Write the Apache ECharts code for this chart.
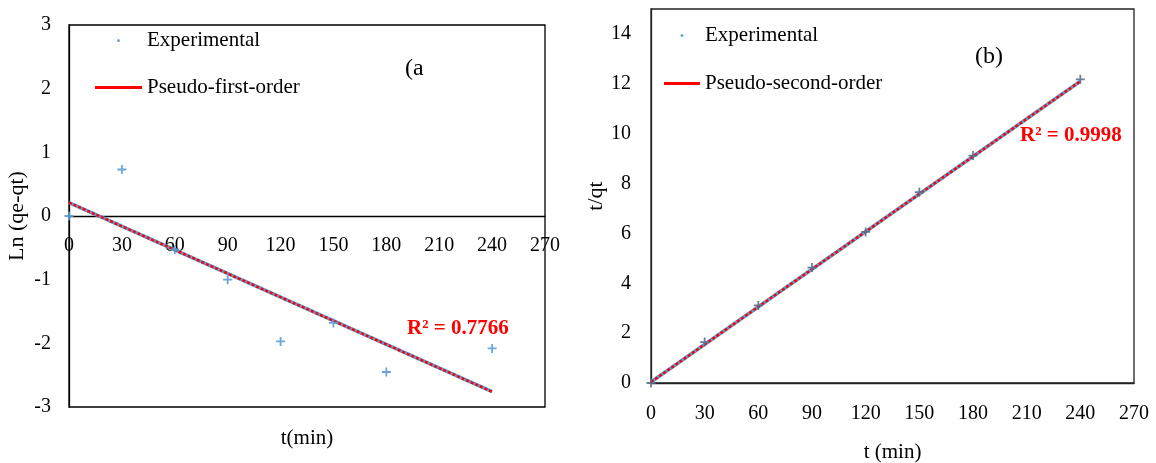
<!DOCTYPE html>
<html>
<head>
<meta charset="utf-8">
<script src="https://cdn.jsdelivr.net/npm/echarts@6/dist/echarts.min.js"></script>
<style>
  html, body { margin: 0; padding: 0; background: #fff; }
  #main { width: 1156px; height: 463px; }
</style>
</head>
<body>
<div id="main"></div>
<script>
// time points (min)
const timeA = [0, 30, 60, 90, 120, 150, 180, 240];
const timeB = [0, 30, 60, 90, 120, 150, 180, 240];

// (a) pseudo-first-order: Ln(qe-qt)
const lnQeQt = [0, 0.73, -0.53, -1.0, -1.97, -1.68, -2.45, -2.08];
const fitTimeA = [0, 240];
const fitA = [0.21, -2.76];

// (b) pseudo-second-order: t/qt
const tOverQt = [0, 1.64, 3.11, 4.63, 6.06, 7.65, 9.12, 12.18];
const fitTimeB = [0, 240];
const fitB = [0.04, 12.1];

const FONT = '"Liberation Serif", "Times New Roman", serif';
const ptColor = '#5b9bd5';
// small plus marker (point with tiny error bars)
const plus = 'path://M4,0L6,0L6,4L10,4L10,6L6,6L6,10L4,10L4,6L0,6L0,4L4,4Z';

function pairs(xs, ys) {
  return xs.map((x, i) => [x, ys[i]]);
}

const chart = echarts.init(document.getElementById('main'));

const axisLabel = { color: '#000', fontFamily: FONT, fontSize: 20 };
const nameStyle = { color: '#000', fontFamily: FONT, fontSize: 21 };

// panel (a) box: top 25, bottom 407 -> zero line at 216
const gridATop = 25, gridABottom = 407;
const zeroShift = gridABottom - (gridATop + gridABottom) / 2;

const option = {
  backgroundColor: '#fff',
  animation: false,
  grid: [
    { left: 69, right: 611, top: gridATop, bottom: 463 - gridABottom, outerBoundsMode: 'none', containLabel: false,
      show: true, borderColor: '#000', borderWidth: 1.3, backgroundColor: 'transparent' },
    { left: 651, right: 22, top: 9, bottom: 80, outerBoundsMode: 'none', containLabel: false,
      show: true, borderColor: '#222', borderWidth: 1.3, backgroundColor: 'transparent' }
  ],
  xAxis: [
    {
      type: 'value', gridIndex: 0, min: 0, max: 270, interval: 30,
      offset: -zeroShift,
      axisLine: { onZero: false, lineStyle: { color: '#000', width: 1.3 } },
      axisTick: { show: false },
      splitLine: { show: false },
      axisLabel: Object.assign({ margin: 20 }, axisLabel),
      name: 't(min)', nameLocation: 'middle', nameGap: 212,
      nameTextStyle: nameStyle
    },
    {
      type: 'value', gridIndex: 1, min: 0, max: 270, interval: 30,
      axisLine: { lineStyle: { color: '#222', width: 1.3 } },
      axisTick: { show: false },
      splitLine: { show: false },
      axisLabel: Object.assign({ margin: 21 }, axisLabel),
      name: 't (min)', nameLocation: 'middle', nameGap: 59,
      nameTextStyle: nameStyle
    }
  ],
  yAxis: [
    {
      type: 'value', gridIndex: 0, min: -3, max: 3, interval: 1,
      axisLine: { show: true, onZero: false, lineStyle: { color: '#000', width: 1.3 } },
      axisTick: { show: false },
      splitLine: { show: false },
      axisLabel: Object.assign({ margin: 18 }, axisLabel),
      name: 'Ln (qe-qt)', nameLocation: 'middle', nameGap: 41, nameRotate: 90,
      nameTextStyle: Object.assign({}, nameStyle, { fontSize: 22 })
    },
    {
      type: 'value', gridIndex: 1, min: 0, max: 15, interval: 2,
      axisLine: { show: true, lineStyle: { color: '#222', width: 1.3 } },
      axisTick: { show: false },
      splitLine: { show: false },
      axisLabel: Object.assign({ margin: 20, showMaxLabel: false }, axisLabel),
      name: 't/qt', nameLocation: 'middle', nameGap: 42, nameRotate: 90,
      nameTextStyle: Object.assign({}, nameStyle, { fontSize: 22 })
    }
  ],
  legend: [
    {
      left: 95, top: 30, orient: 'vertical', itemGap: 26, padding: 0,
      itemWidth: 47, itemHeight: 3, selectedMode: false,
      textStyle: { color: '#000', fontFamily: FONT, fontSize: 21 },
      data: [
        { name: 'Experimental', icon: 'circle', itemStyle: { color: ptColor } },
        { name: 'Pseudo-first-order', icon: 'rect', itemStyle: { color: '#ff0000' } }
      ]
    },
    {
      left: 664, top: 25, orient: 'vertical', itemGap: 27, padding: 0,
      itemWidth: 36, itemHeight: 3, selectedMode: false,
      textStyle: { color: '#000', fontFamily: FONT, fontSize: 21 },
      data: [
        { name: 'Experimental', icon: 'circle', itemStyle: { color: ptColor } },
        { name: 'Pseudo-second-order', icon: 'rect', itemStyle: { color: '#ff0000' } }
      ]
    }
  ],
  series: [
    {
      name: 'fitA-under', type: 'line', xAxisIndex: 0, yAxisIndex: 0,
      data: pairs(fitTimeA, fitA), showSymbol: false, symbol: 'none',
      lineStyle: { color: ptColor, width: 3.5 }, z: 2
    },
    {
      name: 'Pseudo-first-order', type: 'line', xAxisIndex: 0, yAxisIndex: 0,
      data: pairs(fitTimeA, fitA), showSymbol: false, symbol: 'none',
      lineStyle: { color: '#ff0000', width: 2.5, type: [3, 2] }, z: 3
    },
    {
      name: 'Experimental', type: 'scatter', xAxisIndex: 0, yAxisIndex: 0,
      data: pairs(timeA, lnQeQt), symbol: plus, symbolSize: 9,
      itemStyle: { color: ptColor, opacity: 0.9 }, z: 4
    },
    {
      name: 'fitB-under', type: 'line', xAxisIndex: 1, yAxisIndex: 1,
      data: pairs(fitTimeB, fitB), showSymbol: false, symbol: 'none',
      lineStyle: { color: ptColor, width: 3.5 }, z: 2
    },
    {
      name: 'Pseudo-second-order', type: 'line', xAxisIndex: 1, yAxisIndex: 1,
      data: pairs(fitTimeB, fitB), showSymbol: false, symbol: 'none',
      lineStyle: { color: '#ff0000', width: 2.5, type: [3, 2] }, z: 3
    },
    {
      name: 'Experimental', type: 'scatter', xAxisIndex: 1, yAxisIndex: 1,
      data: pairs(timeB, tOverQt), symbol: plus, symbolSize: 9,
      itemStyle: { color: '#5a6f8a', opacity: 0.9 }, z: 4
    }
  ],
  graphic: [
    { type: 'text', left: 405, top: 57, style: { text: '(a', fill: '#000', font: '24px ' + FONT } },
    { type: 'text', left: 975, top: 45, style: { text: '(b)', fill: '#000', font: '24px ' + FONT } },
    { type: 'text', left: 407, top: 318, style: { text: 'R² = 0.7766', fill: '#ff0000', font: 'bold 21px ' + FONT } },
    { type: 'text', left: 1020, top: 125, style: { text: 'R² = 0.9998', fill: '#ff0000', font: 'bold 21px ' + FONT } }
  ]
};

chart.setOption(option);
window.addEventListener('resize', function () {
  chart.resize();
});
</script>
</body>
</html>
